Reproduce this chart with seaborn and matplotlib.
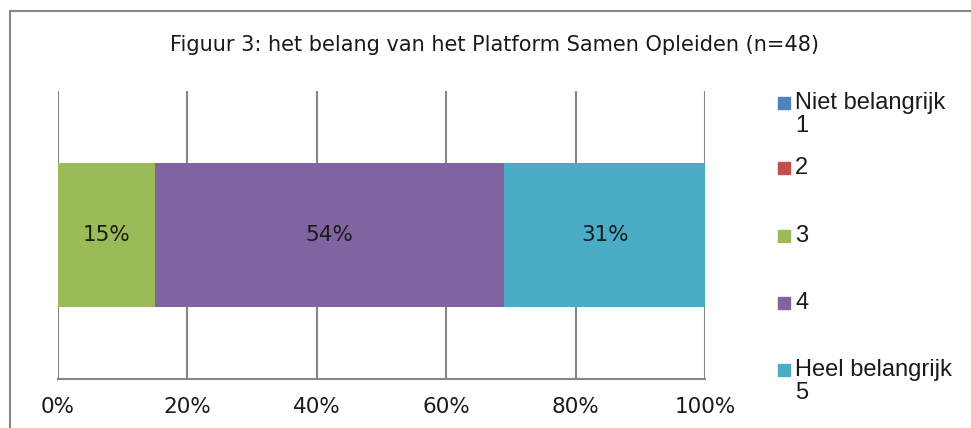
import matplotlib
matplotlib.use("Agg")
import matplotlib.pyplot as plt
import seaborn as sns
import pandas as pd
from matplotlib.patches import Rectangle

# data
categories = ["Niet belangrijk\n1", "2", "3", "4", "Heel belangrijk\n5"]
percentages = [0, 0, 15, 54, 31]
colors = ["#4F81BD", "#C0504D", "#9BBB59", "#8064A2", "#4BACC6"]
tick_values = [0, 20, 40, 60, 80, 100]
tick_labels = ["0%", "20%", "40%", "60%", "80%", "100%"]
title = "Figuur 3: het belang van het Platform Samen Opleiden (n=48)"

sns.set_style("white")
plt.rcParams["font.family"] = ["DejaVu Sans"]

W, H = 971, 428
fig = plt.figure(figsize=(W / 100, H / 100), dpi=100)
ax = fig.add_axes([58 / W, (H - 379) / H, (705 - 58) / W, (379 - 91) / H])

# stacked bar: draw cumulative sums from largest to smallest
cum = pd.Series(percentages).cumsum().tolist()
for i in reversed(range(len(categories))):
    sns.barplot(x=[cum[i]], y=[""], color=colors[i], width=0.5, orient="h",
                linewidth=0, saturation=1, ax=ax)

# value labels in the middle of each segment
left = 0
for p in percentages:
    if p > 0:
        ax.text(left + p / 2, 0, f"{p}%", ha="center", va="center",
                fontsize=15.5, family="DejaVu Sans", color="#1a1a1a")
    left += p

ax.set_xlim(0, 100)
ax.set_ylim(0.5, -0.5)
ax.set_xticks(tick_values)
ax.set_xticklabels(tick_labels, fontsize=15.5, family="DejaVu Sans")
ax.set_yticks([])
ax.set_xlabel("")
ax.set_ylabel("")
ax.set_axisbelow(True)
ax.grid(axis="x", color="#868686", linewidth=1.5)
for s in ["top", "right", "left"]:
    ax.spines[s].set_visible(False)
ax.spines["bottom"].set_color("#868686")
ax.spines["bottom"].set_linewidth(1.5)
ax.tick_params(axis="x", direction="out", length=7, width=1.5,
               color="#868686", pad=6, labelcolor="#1a1a1a")

# title
fig.text(494 / W, 1 - 45 / H, title, ha="center", va="center",
         fontsize=15, family="DejaVu Sans", color="#1a1a1a")

# legend drawn manually
legend_y = [103, 168, 236, 303, 370]
for lab, col, y in zip(categories, colors, legend_y):
    fig.patches.append(Rectangle((778 / W, 1 - (y + 6) / H), 12 / W, 12 / H,
                                 transform=fig.transFigure, color=col))
    fig.text(795 / W, 1 - (y - 11) / H, lab, ha="left", va="top",
             fontsize=17, family="Liberation Sans", color="#1a1a1a",
             linespacing=1.05)

# chart border (only left and top visible in crop)
fig.patches.append(Rectangle((10 / W, -0.1), 1.2, 1 - 11 / H + 0.1,
                             transform=fig.transFigure, fill=False,
                             edgecolor="#868686", linewidth=1.5))

fig.savefig("out.png", dpi=100)
